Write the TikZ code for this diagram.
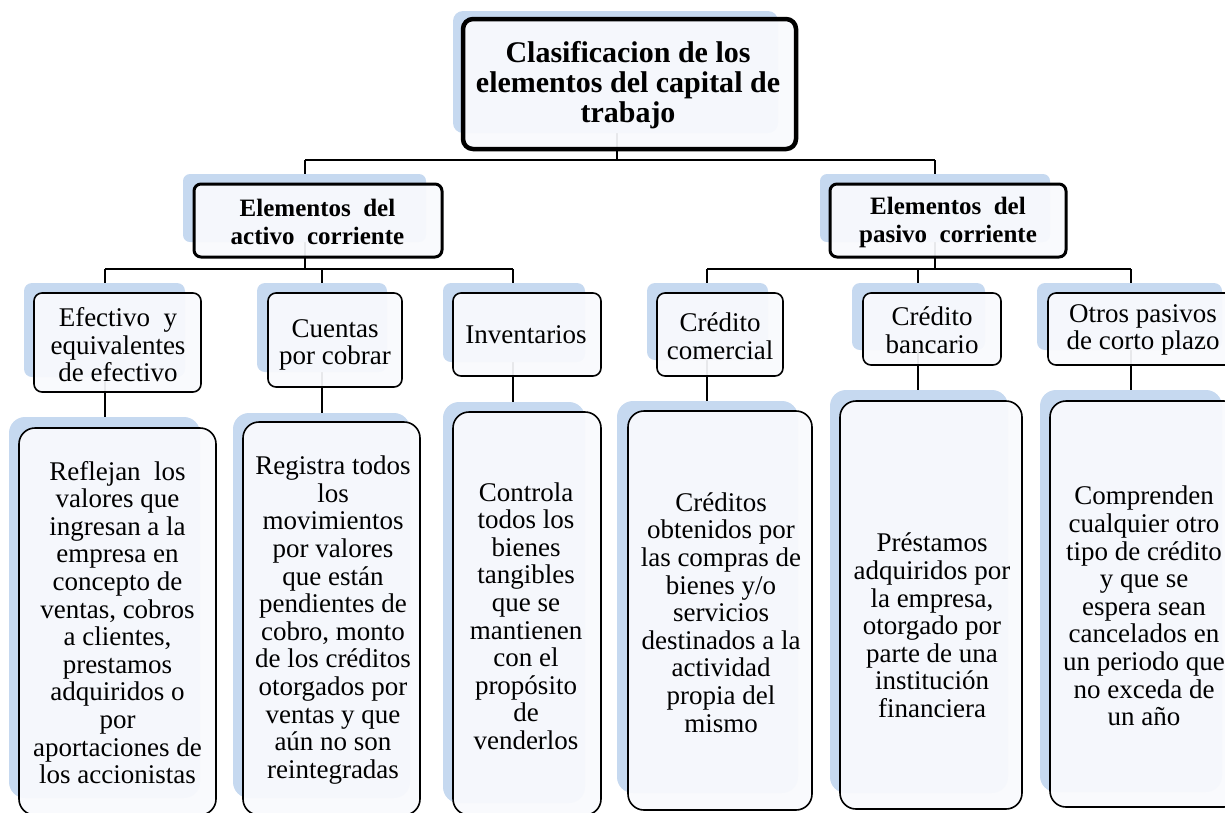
\documentclass[tikz,border=0pt]{standalone}
\usepackage{fontspec}
\setmainfont{Liberation Serif}
\definecolor{shc}{RGB}{198,217,240}
\definecolor{bxf}{RGB}{249,250,253}
\pgfdeclarelayer{bg}
\pgfdeclarelayer{sh}
\pgfsetlayers{bg,sh,main}
\tikzset{
  bx/.style={draw=black, fill=bxf, fill opacity=0.93, text opacity=1, draw opacity=1, inner sep=0pt, outer sep=0pt, rectangle},
  topbox/.style={bx, line width=4.5pt, rounded corners=10pt},
  midbox/.style={bx, line width=3pt, rounded corners=7pt},
  lthree/.style={bx, line width=1.6pt, rounded corners=8pt},
  lfour/.style={bx, line width=1.6pt, rounded corners=16pt},
  shtop/.style={fill=shc, rounded corners=10pt},
  shmid/.style={fill=shc, rounded corners=7pt},
  shthree/.style={fill=shc, rounded corners=8pt},
  shfour/.style={fill=shc, rounded corners=16pt},
  conn/.style={line width=1.5pt, draw=black},
  txt/.style={align=center, inner sep=0pt, font=\fontsize{27}{27.6}\selectfont},
  midtxt/.style={align=center, inner sep=0pt, font=\fontsize{25}{28}\selectfont\bfseries},
  toptxt/.style={align=center, inner sep=0pt, font=\fontsize{30}{30}\selectfont\bfseries}
}
\newcommand{\mybox}[6]{\node[#6, minimum width={#4-#2}, minimum height={#5-#3}] (#1) at ({(#2+#4)/2},{(#3+#5)/2}) {};}
\begin{document}
\begin{tikzpicture}[x=1pt, y=-1pt]
\useasboundingbox (0,0) rectangle (1225,812);
% boxes
\mybox{top}{463}{19}{796}{149}{topbox}
\mybox{ml}{194}{184}{442}{257}{midbox}
\mybox{mr}{830}{184}{1066}{257}{midbox}
\mybox{ef}{34}{293}{201}{392}{lthree}
\mybox{cu}{268}{293}{402}{387}{lthree}
\mybox{in}{453}{293}{601}{376}{lthree}
\mybox{cc}{657}{293}{783}{376}{lthree}
\mybox{cb}{863}{293}{1001}{365}{lthree}
\mybox{op}{1048}{293}{1239}{365}{lthree}
\mybox{re}{19}{428}{216}{815}{lfour}
\mybox{rg}{243}{422}{420}{815}{lfour}
\mybox{co}{453}{412}{601}{815}{lfour}
\mybox{cr}{628}{411}{812}{810}{lfour}
\mybox{pr}{840}{401}{1022}{809}{lfour}
\mybox{cm}{1050}{401}{1240}{807}{lfour}
% shadows
\begin{pgfonlayer}{sh}
\fill[shtop] (453,11) rectangle (778,133);
\fill[shmid] (183,174) rectangle (426,242);
\fill[shmid] (820,174) rectangle (1050,242);
\fill[shthree] (24,283) rectangle (185,377);
\fill[shthree] (257,283) rectangle (387,372);
\fill[shthree] (443,283) rectangle (585,362);
\fill[shthree] (647,283) rectangle (768,360);
\fill[shthree] (852,283) rectangle (985,350);
\fill[shthree] (1037,283) rectangle (1222,350);
\fill[shfour] (9,417) rectangle (200,798);
\fill[shfour] (233,413) rectangle (410,798);
\fill[shfour] (443,402) rectangle (585,803);
\fill[shfour] (617,401) rectangle (798,793);
\fill[shfour] (830,390) rectangle (1008,793);
\fill[shfour] (1040,390) rectangle (1222,792);
\end{pgfonlayer}
% connectors
\begin{pgfonlayer}{bg}
\coordinate (a0) at (617,160);
\coordinate (aL) at (305,160);
\coordinate (aR) at (935,160);
\coordinate (bL) at (305,269);
\coordinate (bR) at (935,269);
\coordinate (d1) at (105,269);
\coordinate (d2) at (322,269);
\coordinate (d3) at (513,269);
\coordinate (d4) at (707,269);
\coordinate (d5) at (918,269);
\coordinate (d6) at (1131,269);
\draw[conn] (top.center -| a0) -- (a0);
\draw[conn] (aL) -- (aR);
\draw[conn] (aL) -- (ml.north -| aL);
\draw[conn] (aR) -- (mr.north -| aR);
\draw[conn] (ml.center -| bL) -- (bL);
\draw[conn] (mr.center -| bR) -- (bR);
\draw[conn] (d1) -- (d3);
\draw[conn] (d4) -- (d6);
\foreach \d/\p/\c in {d1/ef/re, d2/cu/rg, d3/in/co, d4/cc/cr, d5/cb/pr, d6/op/cm} {
  \draw[conn] (\d) -- (\p.north -| \d);
  \draw[conn] (\p.center -| \d) -- (\c.north -| \d);
}
\end{pgfonlayer}
% texts
\node[toptxt] (topt) at (628,85) {Clasificacion de los\\elementos del capital de\\trabajo};
\node[midtxt] (mlt) at (317.5,222) {Elementos \ del\\activo \ corriente};
\node[midtxt] (mrt) at (948,222) {Elementos \ del\\pasivo \ corriente};
\node[txt] (eft) at (118,345) {Efectivo \ y\\equivalentes\\de efectivo};
\node[txt] (cut) at (335,345) {Cuentas\\por cobrar};
\node[txt] (int) at (526,335) {Inventarios};
\node[txt] (cct) at (720,336) {Crédito\\comercial};
\node[txt] (cbt) at (932,330) {Crédito\\bancario};
\node[txt] (opt) at (1143,330) {Otros pasivos\\de corto plazo};
\node[txt] (ret) at (117.5,622.5) {Reflejan \ los\\valores que\\ingresan a la\\empresa en\\concepto de\\ventas, cobros\\a clientes,\\prestamos\\adquiridos o\\por\\aportaciones de\\los accionistas};
\node[txt] (rgt) at (333,620) {Registra todos\\los\\movimientos\\por valores\\que están\\pendientes de\\cobro, monto\\de los créditos\\otorgados por\\ventas y que\\aún no son\\reintegradas};
\node[txt] (cot) at (526,616) {Controla\\todos los\\bienes\\tangibles\\que se\\mantienen\\con el\\propósito\\de\\venderlos};
\node[txt] (crt) at (721,612.5) {Créditos\\obtenidos por\\las compras de\\bienes y/o\\servicios\\destinados a la\\actividad\\propia del\\mismo};
\node[txt] (prt) at (932,625.5) {Préstamos\\adquiridos por\\la empresa,\\otorgado por\\parte de una\\institución\\financiera};
\node[txt] (cmt) at (1144,606) {Comprenden\\cualquier otro\\tipo de crédito\\y que se\\espera sean\\cancelados en\\un periodo que\\no exceda de\\un año};
\end{tikzpicture}
\end{document}
